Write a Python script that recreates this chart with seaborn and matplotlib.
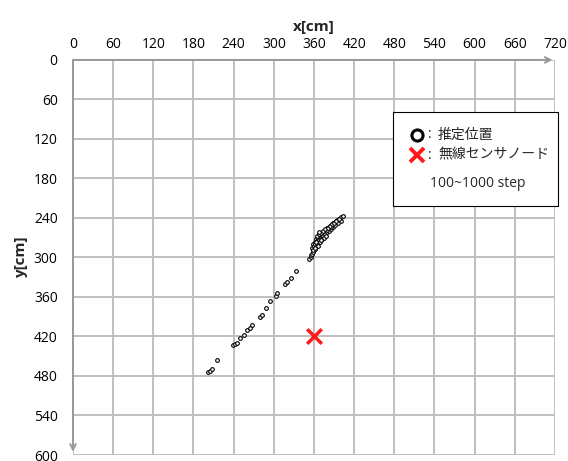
import numpy as np
import pandas as pd
import seaborn as sns
import matplotlib.pyplot as plt
from matplotlib.patches import Rectangle

# 推定位置 (100~1000 step) [cm]
est_x = [202, 205, 207, 215, 239, 242, 245, 250, 255, 260, 264, 267, 279, 282, 288, 295, 303, 305,
         317, 320, 326, 333, 353, 355, 356, 357, 358, 359, 360, 361, 363,
         357, 359, 361, 363, 366, 368, 370, 372, 374, 376, 378, 380, 382, 385, 388, 391, 394, 397, 400, 403,
         360, 362, 365, 367, 370, 373, 376, 379, 382, 385, 388, 392, 396, 400,
         365, 369, 372, 375, 378, 362, 359, 366, 371, 380, 386,
         364, 367, 371, 374, 377, 381, 384, 387, 390, 393, 398, 358, 361, 363, 368]
est_y = [474, 472, 469, 456, 433, 431, 430, 423, 417, 410, 407, 403, 390, 387, 377, 366, 359, 354,
         340, 337, 331, 321, 303, 300, 296, 294, 289, 286, 283, 281, 279,
         285, 280, 276, 272, 270, 268, 266, 264, 262, 260, 258, 256, 254, 251, 248, 246, 243, 241, 239, 237,
         283, 279, 275, 273, 270, 268, 265, 262, 260, 257, 254, 251, 247, 244,
         279, 276, 272, 270, 267, 287, 291, 282, 274, 259, 253,
         268, 265, 263, 260, 257, 255, 252, 249, 247, 245, 242, 289, 285, 277, 262]

# 無線センサノード
node_x = [360]
node_y = [420]

x_ticks = list(range(0, 721, 60))
y_ticks = list(range(0, 601, 60))

est_df = pd.DataFrame({"x": est_x, "y": est_y})
node_df = pd.DataFrame({"x": node_x, "y": node_y})

sns.set_style("white")
plt.rcParams["font.family"] = ["Open Sans", "Noto Sans CJK JP", "DejaVu Sans"]

fig = plt.figure(figsize=(5.68, 4.61), dpi=100)
ax = fig.add_axes([0.1285, 0.013, 0.8486, 0.857])

grid_color = "#c0c0c0"
sns.scatterplot(data=est_df, x="x", y="y", ax=ax, marker="o", s=7,
                facecolor="white", edgecolor="black", linewidth=0.8, zorder=3)
sns.scatterplot(data=node_df, x="x", y="y", ax=ax, marker="x", s=110,
                color="#ff1a1a", linewidth=2.5, zorder=4)

ax.set_xlim(0, 720)
ax.set_ylim(600, 0)
ax.set_xticks(x_ticks)
ax.set_yticks(y_ticks)
ax.xaxis.tick_top()
ax.xaxis.set_label_position("top")
ax.tick_params(axis="both", length=0, labelsize=10, colors="black")
ax.tick_params(axis="x", pad=6)
ax.tick_params(axis="y", pad=11)
ax.grid(True, color=grid_color, linewidth=1.4)
for s in ax.spines.values():
    s.set_visible(False)

ax.set_xlabel("x[cm]", fontsize=11, fontweight="bold", labelpad=4)
ax.set_ylabel("y[cm]", fontsize=11, fontweight="bold", labelpad=4)

# 軸の矢印
ax.annotate("", xy=(0.995, 1.0), xytext=(0.0, 1.0), xycoords="axes fraction",
            arrowprops=dict(arrowstyle="->", color="#999999", lw=1.4, shrinkA=0, shrinkB=0),
            annotation_clip=False)
ax.annotate("", xy=(0.0, 0.008), xytext=(0.0, 1.0), xycoords="axes fraction",
            arrowprops=dict(arrowstyle="->", color="#999999", lw=1.4, shrinkA=0, shrinkB=0),
            annotation_clip=False)

# 凡例ボックス
box = Rectangle((393 / 568, 1 - 206 / 461), 165 / 568, 94 / 461, transform=fig.transFigure,
                facecolor="white", edgecolor="black", linewidth=0.8, zorder=5)
fig.patches.append(box)
fig.lines.append(plt.Line2D([417 / 568], [1 - 135 / 461], transform=fig.transFigure, marker="o",
                            markersize=8, markerfacecolor="white", markeredgecolor="black",
                            markeredgewidth=2.2, linestyle="none", zorder=6))
fig.lines.append(plt.Line2D([417 / 568], [1 - 155 / 461], transform=fig.transFigure, marker="x",
                            markersize=10, color="#ff1a1a", markeredgewidth=2.8,
                            linestyle="none", zorder=6))
for yy, label in [(135, "推定位置"), (155, "無線センサノード")]:
    fig.text(428 / 568, 1 - yy / 461, ":", fontsize=10, va="center", ha="left", zorder=6)
    fig.text(438 / 568, 1 - yy / 461, label, fontsize=10, va="center", ha="left", zorder=6)
fig.text(430 / 568, 1 - 183 / 461, "100~1000 step", fontsize=10, va="center", ha="left", zorder=6)

fig.savefig("out.png", dpi=100)
